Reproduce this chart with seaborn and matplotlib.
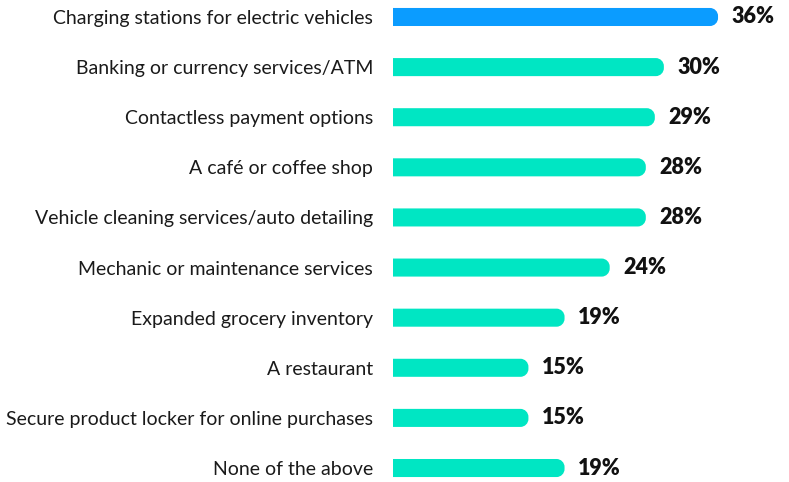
import matplotlib
matplotlib.use("Agg")
import matplotlib.pyplot as plt
import seaborn as sns
import pandas as pd
from matplotlib.path import Path
from matplotlib.patches import PathPatch
from matplotlib.transforms import offset_copy

categories = [
    "Charging stations for electric vehicles",
    "Banking or currency services/ATM",
    "Contactless payment options",
    "A café or coffee shop",
    "Vehicle cleaning services/auto detailing",
    "Mechanic or maintenance services",
    "Expanded grocery inventory",
    "A restaurant",
    "Secure product locker for online purchases",
    "None of the above",
]
values = [36, 30, 29, 28, 28, 24, 19, 15, 15, 19]
value_labels = ["36%", "30%", "29%", "28%", "28%", "24%", "19%", "15%", "15%", "19%"]

BLUE = "#0B9CFF"
TEAL = "#00E6C3"
colors = [BLUE] + [TEAL] * (len(categories) - 1)

df = pd.DataFrame({"category": categories, "value": values})

sns.set_theme(style="white")
plt.rcParams["font.family"] = ["Lato", "DejaVu Sans"]

fig = plt.figure(figsize=(7.89, 4.82), dpi=100)
ax = fig.add_axes([393 / 789, 0, 396 / 789, 1])

sns.barplot(data=df, x="value", y="category", hue="category", palette=colors,
            legend=False, width=0.36, ax=ax, saturation=1)

ax.set_xlim(0, 43.86)
ax.set_ylim(9.279, -0.339)
fig.canvas.draw()

# swap the square bars for bars with rounded right ends
radius_px = 8.0
inv = ax.transData.inverted()
x0d, y0d = inv.transform((0, 0))
x1d, y1d = inv.transform((radius_px, radius_px))
rx, ry = abs(x1d - x0d), abs(y1d - y0d)
k = 0.5523
for p in list(ax.patches):
    x, y = p.get_x(), p.get_y()
    w, h = p.get_width(), p.get_height()
    fc = p.get_facecolor()
    p.remove()
    r_x = min(rx, w / 2)
    r_y = min(ry, h / 2)
    xr = x + w
    top, bot = y, y + h
    verts = [
        (x, top),
        (xr - r_x, top),
        (xr - r_x + k * r_x, top), (xr, top + r_y - k * r_y), (xr, top + r_y),
        (xr, bot - r_y),
        (xr, bot - r_y + k * r_y), (xr - r_x + k * r_x, bot), (xr - r_x, bot),
        (x, bot),
        (x, top),
    ]
    codes = [Path.MOVETO, Path.LINETO,
             Path.CURVE4, Path.CURVE4, Path.CURVE4,
             Path.LINETO,
             Path.CURVE4, Path.CURVE4, Path.CURVE4,
             Path.LINETO, Path.CLOSEPOLY]
    ax.add_patch(PathPatch(Path(verts, codes), facecolor=fc, edgecolor="none", lw=0))

# value labels just past the bar ends
label_tf = offset_copy(ax.transData, fig=fig, x=9.5, y=0, units="points")
for i, (v, lab) in enumerate(zip(values, value_labels)):
    ax.text(v, i, lab, transform=label_tf, ha="left", va="center",
            fontsize=15.5, fontweight="heavy", color="#111111")

ax.set_xlabel("")
ax.set_ylabel("")
ax.set_xticks([])
ax.tick_params(axis="y", length=0, pad=14.4, labelsize=14.0, labelcolor="#1a1a1a")
for s in ax.spines.values():
    s.set_visible(False)

fig.savefig("out.png", dpi=100)
